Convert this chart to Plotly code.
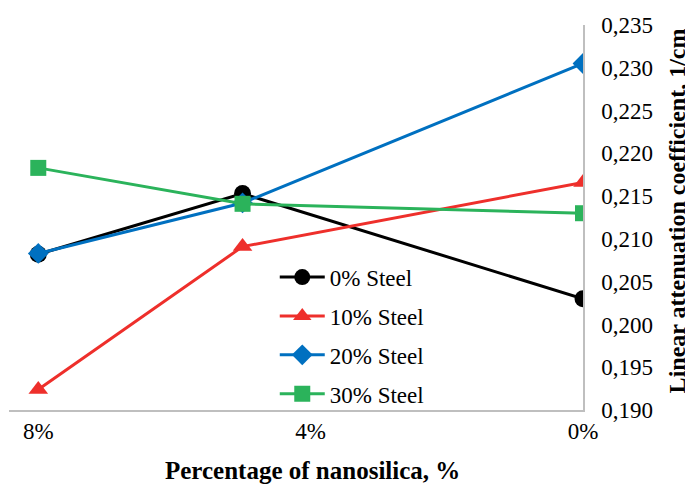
import plotly.graph_objects as go

nanosilica = [8, 5, 0]
steel_0 = [0.2082, 0.2153, 0.2030]
steel_10 = [0.1924, 0.2091, 0.2166]
steel_20 = [0.2083, 0.2142, 0.2305]
steel_30 = [0.2183, 0.2141, 0.2130]
x_ticks = [8, 4, 0]
x_tick_labels = ["8%", "4%", "0%"]

series = [
    ("0% Steel", steel_0, "#000000", "circle", 17),
    ("10% Steel", steel_10, "#ee2f2b", "triangle-up", 17),
    ("20% Steel", steel_20, "#0070c0", "diamond", 16),
    ("30% Steel", steel_30, "#2bb35b", "square", 16),
]

font = "Liberation Serif, Times New Roman, serif"
fig = go.Figure()
for name, vals, color, sym, size in series:
    fig.add_trace(go.Scatter(
        x=nanosilica, y=vals, name=name, mode="lines+markers",
        legendgroup=name,
        line=dict(color=color, width=3),
        marker=dict(symbol=sym, size=size, color=color),
    ))

fig.update_layout(
    width=685, height=476,
    margin=dict(l=1, r=110, t=17, b=74),
    paper_bgcolor="white", plot_bgcolor="white",
    separators=",.",
    font=dict(family=font, size=23, color="#000000"),
    showlegend=True,
    legend=dict(x=0.463, y=0.401, xanchor="left", yanchor="top",
                bgcolor="rgba(0,0,0,0)", font=dict(size=23, family=font),
                itemwidth=45, tracegroupgap=6),
    xaxis=dict(
        range=[8.43, 0], tickvals=x_ticks, ticktext=x_tick_labels,
        showgrid=False, zeroline=False, showline=True, linecolor="#bfbfbf",
        linewidth=1.5, ticks="", automargin=False,
    ),
    yaxis=dict(
        side="right", range=[0.190, 0.235], dtick=0.005, tickformat=".3f",
        showgrid=False, zeroline=False, showline=True, linecolor="#bfbfbf",
        linewidth=1.5, ticks="", ticklabelstandoff=12, automargin=False,
    ),
    annotations=[
        dict(text="<b>Percentage of nanosilica, %</b>", xref="paper", yref="paper",
             x=0.528, y=-0.156, xanchor="center", yanchor="middle",
             showarrow=False, font=dict(size=25, family=font)),
        dict(text="<b>Linear attenuation coefficient, 1/cm</b>", xref="paper", yref="paper",
             x=1.1645, y=0.517, xanchor="center", yanchor="middle", textangle=-90,
             showarrow=False, font=dict(size=24, family=font)),
    ],
)

fig.write_html("out.html")
